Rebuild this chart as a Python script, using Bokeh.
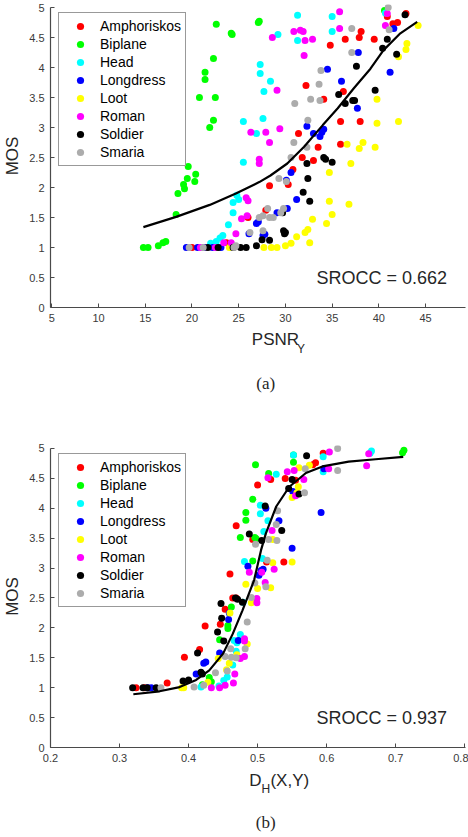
from bokeh.plotting import figure
from bokeh.models import Range1d, FixedTicker, CustomJSTickFormatter, Label
from bokeh.layouts import column
from bokeh.core.properties import value
from bokeh.embed import file_html
from bokeh.resources import INLINE

# ---------------- data ----------------
series_names = ["Amphoriskos", "Biplane", "Head", "Longdress", "Loot", "Roman", "Soldier", "Smaria"]
series_colors = ["#ff0000", "#00ff00", "#00ffff", "#0000ff", "#ffff00", "#ff00ff", "#000000", "#acacac"]

# panel (a): PSNR_Y vs MOS
amph_a_x = [42.9, 40.9, 42.0, 41.5, 38.1, 37.9, 36.4, 39.5, 34.8, 32.2, 34.1, 36.2, 35.9, 38.0, 35.9, 31.4, 33.5, 31.8, 33.0, 30.8, 28.3, 30.3, 27.9, 26.0, 23.7, 20.0, 21.3]
amph_a_y = [4.90, 4.85, 4.75, 4.73, 4.60, 4.50, 4.47, 4.47, 4.37, 3.70, 3.47, 3.60, 3.10, 3.10, 2.72, 2.90, 2.67, 2.50, 2.45, 2.30, 2.03, 2.05, 1.62, 1.50, 1.08, 1.00, 1.00]
bipl_a_x = [40.6, 27.2, 27.1, 22.6, 24.2, 24.3, 22.3, 21.4, 21.4, 20.8, 22.5, 22.3, 21.9, 19.6, 20.4, 19.5, 20.3, 19.1, 19.2, 18.5, 18.3, 14.8, 15.3, 16.4, 16.9, 17.2]
bipl_a_y = [4.95, 4.77, 4.75, 4.72, 4.57, 4.55, 4.15, 3.92, 3.80, 3.50, 3.50, 3.12, 3.00, 2.35, 2.22, 2.15, 2.10, 2.05, 1.98, 1.90, 1.55, 1.00, 1.00, 1.03, 1.08, 1.10]
head_a_x = [40.7, 31.3, 35.0, 29.2, 31.3, 35.0, 27.3, 27.3, 28.4, 27.7, 25.5, 27.6, 26.9, 25.5, 24.8, 24.4, 25.0, 24.4, 23.9, 23.3, 23.0, 22.6, 22.0]
head_a_y = [4.91, 4.87, 4.85, 4.55, 4.45, 4.60, 4.05, 3.90, 3.77, 3.60, 3.10, 3.15, 2.90, 2.42, 1.87, 1.75, 1.80, 1.58, 1.38, 1.20, 1.16, 1.10, 1.07]
long_a_x = [41.6, 37.8, 34.5, 36.0, 37.7, 41.2, 32.3, 33.0, 34.1, 33.9, 33.7, 30.6, 30.1, 31.2, 30.2, 29.1, 26.9, 27.1, 27.6, 26.1, 19.4, 20.6, 21.3, 22.2, 23.1, 27.8]
long_a_y = [4.65, 4.25, 3.97, 3.77, 3.32, 3.92, 3.02, 2.90, 2.97, 2.92, 2.85, 2.25, 2.12, 1.80, 1.65, 1.58, 1.40, 1.43, 1.20, 1.23, 1.00, 1.00, 1.00, 1.00, 1.00, 1.22]
loot_a_x = [44.2, 43.0, 42.9, 42.1, 39.8, 39.8, 42.1, 36.6, 38.3, 37.9, 39.6, 37.0, 34.7, 34.7, 36.8, 35.0, 34.4, 32.9, 32.4, 32.1, 31.2, 32.6, 30.6, 30.0, 29.1, 28.5, 27.7, 24.0]
loot_a_y = [4.70, 4.40, 4.30, 4.18, 3.47, 3.07, 3.10, 2.72, 2.75, 2.65, 2.67, 2.40, 2.25, 1.77, 1.72, 1.55, 1.40, 1.47, 1.30, 1.25, 1.18, 1.08, 1.07, 1.03, 1.00, 1.00, 1.00, 1.00]
roma_a_x = [35.8, 40.9, 40.7, 35.8, 30.9, 31.6, 31.9, 32.1, 32.9, 28.6, 32.0, 29.1, 29.4, 26.3, 27.9, 28.3, 27.2, 27.2, 25.8, 26.0, 25.3, 25.9, 24.7, 23.4, 24.2, 20.9, 22.5]
roma_a_y = [4.93, 4.90, 4.70, 4.65, 4.60, 4.62, 4.60, 4.45, 4.47, 4.50, 4.20, 3.62, 2.98, 2.92, 2.92, 2.75, 2.47, 2.40, 1.83, 1.78, 1.48, 1.53, 1.23, 1.08, 1.08, 1.00, 1.00]
sold_a_x = [42.8, 40.9, 40.4, 41.9, 37.6, 35.7, 36.4, 37.2, 37.4, 39.6, 34.1, 34.3, 35.0, 32.3, 32.4, 31.9, 32.6, 29.8, 30.0, 29.9, 28.3, 27.5, 26.9, 25.8, 25.2, 24.4, 22.8, 21.7, 29.7]
sold_a_y = [4.88, 4.47, 4.32, 4.22, 4.02, 3.55, 3.40, 3.45, 3.45, 3.62, 2.50, 2.47, 2.42, 2.40, 2.15, 1.92, 1.77, 1.28, 1.25, 1.23, 1.12, 1.13, 1.03, 1.00, 1.00, 1.00, 1.00, 1.00, 1.58]
smar_a_x = [41.0, 41.1, 37.1, 37.1, 33.8, 33.6, 32.7, 33.7, 31.0, 32.4, 30.9, 32.3, 30.6, 29.3, 30.1, 29.8, 28.1, 27.2, 27.6, 28.3, 28.7, 26.2, 27.6, 24.7, 24.5, 19.7, 21.2, 29.5]
smar_a_y = [5.00, 4.63, 4.65, 4.25, 3.95, 3.72, 3.47, 3.45, 3.40, 3.12, 2.75, 2.67, 2.50, 2.15, 2.10, 1.65, 1.65, 1.50, 1.53, 1.50, 1.50, 1.25, 1.28, 1.03, 1.00, 1.00, 1.00, 1.58]
fit_a_x = [14.8, 18.3, 21.9, 24.7, 27.2, 28.4, 30.2, 32.0, 34.0, 35.6, 37.3, 39.1, 40.5, 42.3, 44.1]
fit_a_y = [1.34, 1.51, 1.71, 1.90, 2.09, 2.20, 2.40, 2.68, 3.04, 3.32, 3.65, 3.98, 4.29, 4.57, 4.76]
srocc_a = "0.662"

# panel (b): D_H(X,Y) vs MOS
amph_b_x = [0.595, 0.584, 0.580, 0.540, 0.519, 0.500, 0.555, 0.469, 0.493, 0.538, 0.513, 0.460, 0.464, 0.453, 0.424, 0.446, 0.394, 0.416, 0.369, 0.324, 0.336, 0.469]
amph_b_y = [4.92, 4.76, 4.73, 4.50, 4.48, 4.39, 4.47, 3.71, 3.48, 3.10, 3.10, 2.90, 2.50, 2.31, 2.03, 2.06, 1.51, 1.64, 1.08, 1.00, 1.00, 2.50]
bipl_b_x = [0.712, 0.710, 0.552, 0.552, 0.497, 0.516, 0.493, 0.483, 0.483, 0.475, 0.496, 0.493, 0.498, 0.462, 0.457, 0.457, 0.445, 0.430, 0.420, 0.433]
bipl_b_y = [4.97, 4.93, 4.77, 4.89, 4.73, 4.58, 4.15, 3.93, 3.80, 3.51, 3.51, 3.12, 3.49, 2.35, 2.04, 1.99, 1.80, 1.17, 1.05, 1.10]
head_b_x = [0.665, 0.663, 0.552, 0.595, 0.527, 0.595, 0.504, 0.504, 0.515, 0.509, 0.507, 0.481, 0.479, 0.475, 0.466, 0.469, 0.464, 0.456, 0.451, 0.444, 0.418, 0.470]
head_b_y = [4.96, 4.92, 4.89, 4.86, 4.57, 4.61, 4.05, 3.91, 3.79, 3.61, 3.16, 3.11, 2.43, 1.89, 1.79, 1.61, 1.38, 1.18, 1.12, 1.03, 1.01, 1.75]
long_b_x = [0.592, 0.596, 0.550, 0.531, 0.512, 0.551, 0.508, 0.502, 0.486, 0.459, 0.458, 0.472, 0.445, 0.422, 0.411, 0.346, 0.341, 0.505, 0.425]
long_b_y = [3.93, 4.66, 3.33, 3.79, 4.00, 4.28, 2.98, 2.88, 3.03, 2.25, 2.14, 1.79, 1.58, 1.41, 1.23, 1.00, 1.00, 2.96, 1.43]
loot_b_x = [0.560, 0.575, 0.559, 0.557, 0.550, 0.522, 0.522, 0.550, 0.483, 0.500, 0.519, 0.491, 0.460, 0.485, 0.459, 0.443, 0.428, 0.393, 0.390, 0.470, 0.455]
loot_b_y = [4.68, 4.72, 4.36, 4.26, 4.18, 3.48, 3.09, 3.10, 2.73, 2.66, 2.67, 2.42, 2.25, 1.73, 1.41, 1.49, 1.09, 1.00, 1.00, 1.55, 1.30]
roma_b_x = [0.604, 0.661, 0.658, 0.553, 0.543, 0.555, 0.567, 0.515, 0.603, 0.521, 0.524, 0.488, 0.506, 0.511, 0.499, 0.499, 0.481, 0.481, 0.481, 0.475, 0.467, 0.465, 0.453, 0.445, 0.433]
roma_b_y = [4.94, 4.91, 4.71, 4.63, 4.61, 4.21, 4.48, 4.51, 4.66, 3.63, 2.98, 2.93, 2.93, 2.76, 2.42, 2.49, 1.82, 1.78, 1.52, 1.49, 1.23, 1.08, 1.04, 1.00, 1.00]
sold_b_x = [0.571, 0.550, 0.545, 0.560, 0.511, 0.535, 0.488, 0.506, 0.468, 0.471, 0.478, 0.447, 0.448, 0.442, 0.451, 0.413, 0.418, 0.420, 0.400, 0.392, 0.353, 0.340, 0.334, 0.319]
sold_b_y = [4.88, 4.48, 4.33, 4.24, 4.04, 3.63, 3.57, 3.46, 2.50, 2.48, 2.43, 2.41, 2.16, 1.93, 1.78, 1.58, 1.26, 1.23, 1.13, 1.11, 1.00, 1.00, 1.00, 1.00]
smar_b_x = [0.616, 0.616, 0.569, 0.568, 0.529, 0.527, 0.528, 0.516, 0.497, 0.514, 0.512, 0.496, 0.491, 0.485, 0.482, 0.461, 0.453, 0.462, 0.469, 0.456, 0.439, 0.422, 0.408, 0.360]
smar_b_y = [5.00, 4.63, 4.66, 4.26, 3.96, 3.73, 3.46, 3.48, 3.40, 3.13, 2.69, 2.75, 2.51, 2.10, 1.65, 1.65, 1.52, 1.51, 1.50, 1.28, 1.25, 1.04, 1.01, 1.00]
fit_b_x = [0.320, 0.358, 0.387, 0.411, 0.430, 0.450, 0.464, 0.478, 0.495, 0.505, 0.512, 0.527, 0.546, 0.570, 0.594, 0.632, 0.671, 0.711]
fit_b_y = [0.89, 0.94, 1.01, 1.13, 1.29, 1.57, 1.90, 2.29, 2.80, 3.30, 3.58, 4.03, 4.36, 4.59, 4.70, 4.78, 4.82, 4.86]
srocc_b = "0.937"

y_ticks = [0, 0.5, 1, 1.5, 2, 2.5, 3, 3.5, 4, 4.5, 5]
x_ticks_a = [5, 10, 15, 20, 25, 30, 35, 40, 45]
x_ticks_b = [0.2, 0.3, 0.4, 0.5, 0.6, 0.7, 0.8]

FONT = "Liberation Sans"
SERIF = "Liberation Serif"
AXIS_COL = "#4a4a4a"
TEXT_COL = "#262626"
W = 468


def make_panel(xs, ys, fit_x, fit_y, x_range, x_ticks, srocc, height, top, bottom):
    p = figure(width=W, height=height, output_backend="svg", toolbar_location=None,
               x_range=Range1d(*x_range), y_range=Range1d(0, 5.05),
               min_border_left=49, min_border_right=3, min_border_top=top,
               min_border_bottom=bottom, title=None)
    p.xgrid.visible = False
    p.ygrid.visible = False
    p.outline_line_color = None
    fmt = CustomJSTickFormatter(code="return String(Math.round(tick*100)/100);")
    for ax, ticks in ((p.xaxis[0], x_ticks), (p.yaxis[0], y_ticks)):
        ax.ticker = FixedTicker(ticks=ticks)
        ax.formatter = fmt
        ax.minor_tick_line_color = None
        ax.major_tick_in = 4
        ax.major_tick_out = 0
        ax.axis_line_color = AXIS_COL
        ax.axis_line_width = 1.2
        ax.major_tick_line_color = AXIS_COL
        ax.major_label_text_font = FONT
        ax.major_label_text_font_size = "11px"
        ax.major_label_text_color = "#3a3a3a"
        ax.major_label_standoff = 6
    ya = p.yaxis[0]
    ya.bounds = (0, 5)
    ya.axis_label = "MOS"
    ya.axis_label_text_font = FONT
    ya.axis_label_text_font_size = "17px"
    ya.axis_label_text_font_style = "normal"
    ya.axis_label_text_color = TEXT_COL
    ya.axis_label_standoff = 4

    for name, col, x, y in zip(series_names, series_colors, xs, ys):
        p.scatter(x, y, size=7, fill_color=col, line_color=None, legend_label=name)
    p.line(fit_x, fit_y, line_color="black", line_width=2.2)

    lg = p.legend[0]
    lg.location = "top_left"
    lg.margin = 8
    lg.padding = 4
    lg.spacing = 0
    lg.glyph_width = 34
    lg.glyph_height = 18
    lg.label_height = 18
    lg.label_standoff = 3
    lg.label_text_font = FONT
    lg.label_text_font_size = "14px"
    lg.label_text_color = "black"
    lg.border_line_color = "#333333"
    lg.border_line_width = 1
    lg.background_fill_alpha = 1

    p.add_layout(Label(x=266, y=30, x_units="screen", y_units="screen",
                       text="SROCC = " + srocc, text_font=FONT, text_font_size="18px",
                       text_baseline="middle", text_color=TEXT_COL))
    return p


def make_caption(height, parts):
    # parts: (x, y_from_top, text, size, font, align)
    p = figure(width=W, height=height, output_backend="svg", toolbar_location=None,
               x_range=Range1d(0, W), y_range=Range1d(height, 0),
               x_axis_type=None, y_axis_type=None, min_border=0, title=None)
    p.xgrid.visible = False
    p.ygrid.visible = False
    p.outline_line_color = None
    for x, y, t, s, f, a in parts:
        p.text(x=[x], y=[y], text=[t], text_font=value(f), text_font_size=s,
               text_align=a, text_baseline="middle", text_color=TEXT_COL)
    return p


xs_a = [amph_a_x, bipl_a_x, head_a_x, long_a_x, loot_a_x, roma_a_x, sold_a_x, smar_a_x]
ys_a = [amph_a_y, bipl_a_y, head_a_y, long_a_y, loot_a_y, roma_a_y, sold_a_y, smar_a_y]
xs_b = [amph_b_x, bipl_b_x, head_b_x, long_b_x, loot_b_x, roma_b_x, sold_b_x, smar_b_x]
ys_b = [amph_b_y, bipl_b_y, head_b_y, long_b_y, loot_b_y, roma_b_y, sold_b_y, smar_b_y]

pa = make_panel(xs_a, ys_a, fit_a_x, fit_a_y, (4.861, 49.27), x_ticks_a, srocc_a,
                height=329, top=4, bottom=22)
ca = make_caption(91, [(227, 10, "PSNR", "17px", FONT, "left"),
                       (278, 19, "Y", "12px", FONT, "left"),
                       (242.7, 54, "(a)", "17px", SERIF, "center")])
pb = make_panel(xs_b, ys_b, fit_b_x, fit_b_y, (0.2, 0.8012), x_ticks_b, srocc_b,
                height=349, top=25, bottom=22)
cb = make_caption(68, [(224, 11, "D", "17px", FONT, "left"),
                       (238, 19, "H", "12px", FONT, "left"),
                       (248, 11, "(X,Y)", "17px", FONT, "left"),
                       (242.7, 53, "(b)", "17px", SERIF, "center")])

layout = column(pa, ca, pb, cb, spacing=0)
open("out.html", "w").write(file_html(layout, INLINE))
